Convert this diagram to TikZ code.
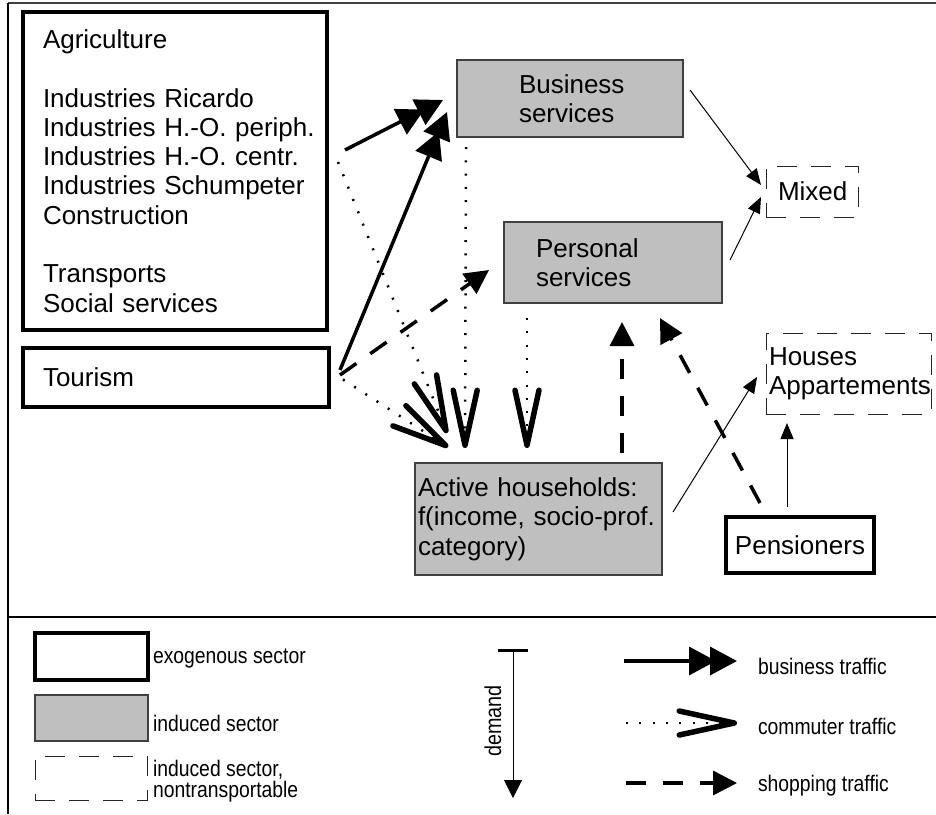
\documentclass[tikz,border=0pt]{standalone}
\usepackage{fontspec}
\setmainfont{Liberation Sans}
\newfontfamily\legf[FakeStretch=0.86]{Liberation Sans}
\usetikzlibrary{arrows.meta,calc}
\begin{document}
\begin{tikzpicture}[x=1pt,y=-1pt,
  every node/.style={inner sep=0pt, outer sep=0pt, font=\fontsize{26pt}{29.3pt}\selectfont},
  exo/.style={draw=black, line width=3.5pt, rectangle},
  indbox/.style={draw=black!75, fill=black!25, line width=1.2pt, rectangle},
  ntr/.style={draw=black!85, line width=1pt, dash pattern=on 20pt off 14pt, rectangle},
  legtext/.style={font=\legf\fontsize{22.5pt}{21.5pt}\selectfont, anchor=west, align=left},
  biz/.style={line width=3.5pt, -{Triangle[length=27pt,width=28pt,sep=-6pt]Triangle[length=27pt,width=28pt]}},
  com/.style={line width=2.5pt, dash pattern=on 2pt off 11.3pt, -{Straight Barb[length=55pt,width=24pt,line width'=5.5pt,round]}},
  shop/.style={line width=3.5pt, dash pattern=on 20pt off 17pt, -{Triangle[length=24pt,width=24pt]}},
  thinarr/.style={line width=1pt, -{Triangle[length=16pt,width=13pt]}},
]
\useasboundingbox (0,0) rectangle (936,814);
% frame
\draw[line width=2pt, black!75] (8,3) -- (936,3);
\draw[line width=1.5pt] (8,3) -- (8,814);
\draw[line width=1.2pt] (8,617) -- (936,617);

% boxes
\node[exo, minimum width=304pt, minimum height=318pt, text width=264pt, align=left] (ind) at (175,171)
  {\mbox{Agriculture}\\[29.3pt]\mbox{Industries Ricardo}\\\mbox{Industries H.-O. periph.}\\\mbox{Industries H.-O. centr.}\\\mbox{Industries Schumpeter}\\\mbox{Construction}\\[29.3pt]\mbox{Transports}\\\mbox{Social services}};
\node[exo, minimum width=306pt, minimum height=59pt, text width=266pt, align=left] (tour) at (176,377.5) {Tourism};
\node[indbox, minimum width=226pt, minimum height=77pt, text width=102pt, align=left] (bus) at (570,98.5) {\mbox{Business}\\services};
\node[indbox, minimum width=218pt, minimum height=81pt, text width=154pt, align=left] (pers) at (613,262.5) {Personal\\services};
\node[ntr, minimum width=92pt, minimum height=51pt, text width=68pt, align=left] (mixed) at (812,191.5) {\mbox{Mixed}};
\node[ntr, minimum width=165pt, minimum height=81pt, text width=159pt, align=left] (houses) at (848.5,373.5) {Houses\\\mbox{Appartements}};
\node[indbox, minimum width=247pt, minimum height=112pt, text width=241pt, align=left] (hh) at (538.5,519) {\mbox{Active households:}\\\mbox{f(income, socio-prof.}\\category)};
\node[exo, minimum width=148pt, minimum height=56pt, text width=140pt, align=center] (pen) at (800,545) {Pensioners};

% business traffic
\draw[biz] ($(ind.east)+(18,-21)$) -- ($(bus.south west)+(-14,-37)$);
\draw[biz] ($(tour.east)+(11,-7.5)$) -- ($(bus.south west)+(-10,-25)$);
% commuter traffic
\draw[com] ($(bus.south west)+(9,10)$) -- ($(hh.north west)+(50,-15)$);
\draw[com] ($(pers.south west)+(23,15)$) -- ($(hh.north west)+(112,-15)$);
\draw[com] ($(ind.east)+(11,-9)$) -- ($(hh.north west)+(32,-30)$);
\draw[com] ($(tour.east)+(14,2)$) -- ($(hh.north west)+(33,-16)$);
% shopping traffic
\draw[shop] ($(tour.east)+(11,-2.5)$) -- ($(pers.west)+(-15,7.5)$);
\draw[shop] ($(hh.north west)+(207,-10)$) -- ($(pers.south west)+(118,19)$);
\draw[shop] ($(pen.north west)+(34,-14)$) -- ($(pers.south east)+(-62,15)$);
% demand
\draw[thinarr] ($(bus.east)+(7,-8.5)$) -- ($(mixed.west)+(-5,-6.5)$);
\draw[thinarr] ($(pers.east)+(8,-2.5)$) -- ($(mixed.west)+(-5,5.5)$);
\draw[thinarr] ($(hh.east)+(11,-7)$) -- ($(houses.west)+(-9,3.5)$);
\draw[thinarr] ($(pen.north)+(-13,-10)$) -- ($(houses.south)+(-61.5,9)$);

% legend
\node[exo, minimum width=113pt, minimum height=47pt] (lexo) at (91.5,656.5) {};
\node[legtext] (lexot) at (153,659) {exogenous sector};
\node[indbox, minimum width=113pt, minimum height=46pt] (lind) at (91.5,718) {};
\node[legtext] (lindt) at (153,723) {induced sector};
\node[ntr, minimum width=112pt, minimum height=44pt] (lntr) at (91,778) {};
\node[legtext] (lntrt) at (153,781) {induced sector,\\nontransportable};

\coordinate (dtop) at (513,649);
\coordinate (dbot) at (513,798);
\draw[line width=1pt, {Bar[width=30pt,line width'=3pt]}-{Triangle[length=18pt,width=18pt]}] (dtop) -- (dbot);
\node[font=\legf\fontsize{23pt}{21pt}\selectfont, rotate=90] (dem) at (493,721) {demand};

\coordinate (lb1) at (624,661); \coordinate (lb2) at (737,661);
\draw[biz] (lb1) -- (lb2);
\node[legtext] (lbt) at (758,666) {business traffic};
\coordinate (lc1) at (626,723); \coordinate (lc2) at (737,723);
\draw[com] (lc1) -- (lc2);
\node[legtext] (lct) at (758,726) {commuter traffic};
\coordinate (ls1) at (626,783); \coordinate (ls2) at (737,783);
\draw[shop] (ls1) -- (ls2);
\node[legtext] (lst) at (758,786) {shopping traffic};
\end{tikzpicture}
\end{document}
